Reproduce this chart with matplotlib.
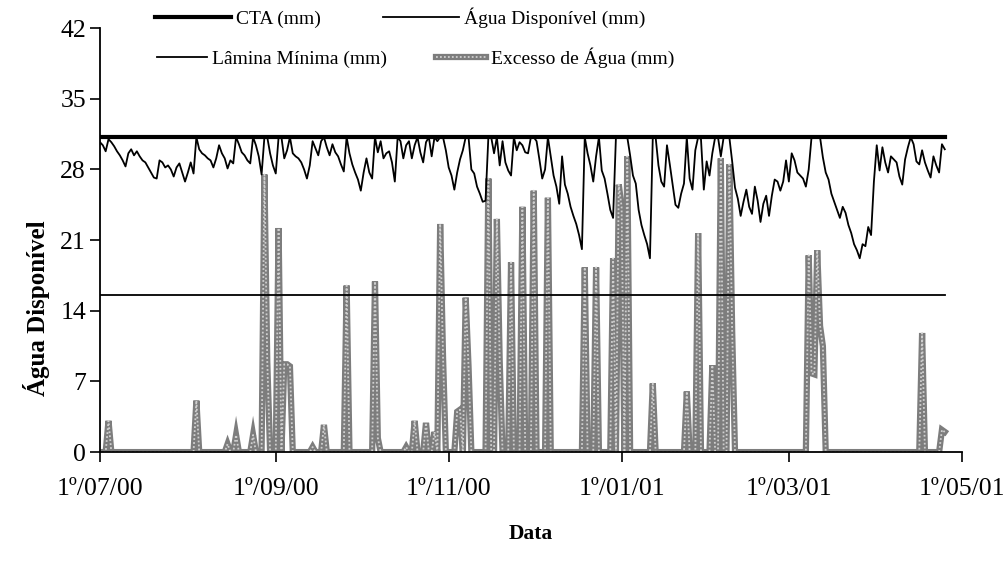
import numpy as np
import pandas as pd
import matplotlib
matplotlib.use("Agg")
import matplotlib.pyplot as plt

plt.rcParams['font.family'] = ['Liberation Serif', 'DejaVu Serif']

# dados diários a partir de 1º/07/2000
start = "2000-07-01"
cta = 31.2
lamina_minima = 15.6

agua_disponivel = [
    30.7, 30.4, 29.8, 31.0, 30.7, 30.3, 29.8, 29.4, 28.9, 28.3,
    29.6, 30.0, 29.4, 29.8, 29.3, 28.9, 28.7, 28.2, 27.7, 27.2,
    27.1, 28.9, 28.7, 28.2, 28.4, 28.0, 27.3, 28.2, 28.6, 27.7,
    26.8, 27.7, 28.7, 27.6, 31.2, 30.0, 29.6, 29.4, 29.1, 28.9,
    28.2, 29.1, 30.4, 29.6, 29.1, 28.1, 28.9, 28.6, 31.2, 30.5,
    29.7, 29.4, 28.9, 28.6, 31.2, 30.4, 29.3, 27.5, 31.2, 31.2,
    29.6, 28.4, 27.6, 31.2, 31.2, 29.1, 29.9, 31.2, 29.6, 29.3,
    29.1, 28.7, 28.0, 27.1, 28.4, 30.8, 30.1, 29.4, 30.8, 31.2,
    30.2, 29.4, 30.5, 29.7, 29.3, 28.5, 27.8, 31.2, 29.6, 28.5,
    27.7, 27.0, 25.9, 27.7, 29.1, 27.7, 27.1, 31.2, 29.7, 30.8,
    29.1, 29.6, 29.8, 28.7, 26.8, 31.2, 30.8, 29.1, 30.4, 30.8,
    29.1, 30.4, 31.2, 29.7, 28.7, 30.7, 31.2, 29.3, 31.2, 30.8,
    31.2, 31.2, 29.9, 28.2, 27.4, 26.0, 27.7, 29.0, 29.9, 31.2,
    31.2, 28.0, 27.6, 26.3, 25.6, 24.8, 24.9, 31.2, 31.2, 29.6,
    31.2, 28.4, 30.8, 28.7, 27.9, 27.4, 31.2, 29.9, 30.7, 30.4,
    29.7, 29.6, 31.2, 31.2, 30.8, 29.0, 27.1, 28.0, 31.2, 29.3,
    27.4, 26.3, 24.6, 29.3, 26.5, 25.6, 24.3, 23.4, 22.6, 21.5,
    20.1, 31.2, 29.6, 28.4, 26.8, 29.3, 31.2, 27.9, 27.1, 25.6,
    24.0, 23.2, 31.2, 31.2, 31.2, 31.2, 31.2, 29.4, 27.4, 26.6,
    24.0, 22.5, 21.5, 20.6, 19.2, 31.2, 31.2, 28.4, 26.8, 26.3,
    30.4, 28.5, 26.5, 24.5, 24.2, 25.6, 26.6, 31.2, 27.1, 26.0,
    29.9, 31.2, 31.0, 26.0, 28.8, 27.4, 29.6, 31.2, 31.2, 29.3,
    31.2, 31.2, 31.2, 28.8, 26.2, 25.1, 23.4, 24.8, 26.0, 24.3,
    23.6, 26.3, 24.9, 22.8, 24.6, 25.4, 23.4, 25.4, 27.0, 26.8,
    25.9, 26.8, 28.9, 26.8, 29.6, 28.9, 27.7, 27.4, 27.1, 26.3,
    28.0, 31.2, 31.2, 31.2, 31.2, 29.2, 27.7, 27.0, 25.6, 24.8,
    24.0, 23.2, 24.3, 23.7, 22.5, 21.7, 20.6, 20.0, 19.2, 20.6,
    20.4, 22.3, 21.5, 26.8, 30.4, 27.9, 30.2, 28.7, 27.7, 29.3,
    29.0, 28.7, 27.3, 26.5, 29.0, 30.2, 31.2, 30.5, 28.8, 28.5,
    29.9, 28.7, 27.9, 27.2, 29.3, 28.4, 27.7, 30.5, 30.0,
]

# excesso de água: dias (a partir de 1º/07/00) com valor diferente de zero
excesso_dias = [3, 34, 45, 48, 54, 58, 59, 63, 65, 66, 67, 75, 79, 87, 97, 98,
                108, 111, 115, 118, 120, 121, 126, 127, 129, 130, 137, 140, 141,
                145, 149, 153, 158, 171, 175, 181, 183, 184, 186, 195, 207, 211,
                216, 219, 222, 223, 250, 251, 252, 253, 254, 255, 290, 297, 298]
excesso_vals = [3.1, 5.1, 0.8, 1.7, 1.7, 27.5, 9.0, 22.2, 8.7, 8.7, 8.5, 0.5, 2.7,
                16.5, 16.9, 1.4, 0.5, 3.1, 2.9, 2.0, 22.6, 9.5, 4.0, 4.2, 15.3,
                8.5, 27.1, 23.1, 9.0, 18.8, 24.3, 25.9, 25.2, 18.3, 18.3, 19.2,
                26.5, 24.3, 29.3, 6.8, 6.0, 21.7, 8.6, 29.1, 28.5, 12.0, 19.5,
                7.8, 7.7, 20.0, 12.5, 10.5, 11.8, 2.2, 2.0]

xticks = ["2000-07-01", "2000-09-01", "2000-11-01", "2001-01-01", "2001-03-01", "2001-05-01"]
xtick_labels = ["1º/07/00", "1º/09/00", "1º/11/00", "1º/01/01", "1º/03/01", "1º/05/01"]

n = len(agua_disponivel)
dates = pd.date_range(start, periods=n, freq="D")
excesso = np.zeros(n)
excesso[excesso_dias] = excesso_vals

fig = plt.figure(figsize=(10.05, 5.63), dpi=100)
ax = fig.add_axes([0.0995, 0.197, 0.8575, 0.753])

exc_base, = ax.plot(dates, excesso, color="#7d7d7d", lw=4.5, solid_joinstyle="miter")
exc_dot, = ax.plot(dates, excesso, color="#cfcfcf", lw=1.3, ls=(0, (1, 1.2)))
lin_cta, = ax.plot(dates, [cta] * n, color="black", lw=3)
lin_ad, = ax.plot(dates, agua_disponivel, color="black", lw=1.3)
lin_lam, = ax.plot(dates, [lamina_minima] * n, color="black", lw=1.3)

ax.set_xlim(pd.Timestamp(xticks[0]), pd.Timestamp(xticks[-1]))
ax.set_ylim(0, 42)
ax.set_yticks(range(0, 43, 7))
ax.set_xticks([pd.Timestamp(t) for t in xticks])
ax.set_xticklabels(xtick_labels)
ax.tick_params(direction="out", length=7, width=1.2, labelsize=18.5)
ax.tick_params(axis="x", pad=12)
ax.tick_params(axis="y", pad=3)
for s in ["top", "right"]:
    ax.spines[s].set_visible(False)
for s in ["left", "bottom"]:
    ax.spines[s].set_linewidth(1.3)

ax.set_xlabel("Data", fontsize=15.5, fontweight="bold", labelpad=17)
ax.set_ylabel("Água Disponível", fontsize=18, fontweight="bold")
ax.yaxis.set_label_coords(-0.058, 0.34)

# legenda em duas linhas, como no original
leg1 = ax.legend([lin_cta, lin_ad], ["CTA (mm)", "Água Disponível (mm)"],
                 ncol=2, loc="center left", bbox_to_anchor=(0.064, 1.024), frameon=False,
                 fontsize=14, handlelength=3.9, handletextpad=0.25, columnspacing=3.2,
                 borderaxespad=0, borderpad=0)
ax.add_artist(leg1)
ax.legend([lin_lam, (exc_base, exc_dot)], ["Lâmina Mínima (mm)", "Excesso de Água (mm)"],
          ncol=2, loc="center left", bbox_to_anchor=(0.066, 0.93), frameon=False,
          fontsize=14, handlelength=2.6, handletextpad=0.25, columnspacing=2.5,
          borderaxespad=0, borderpad=0)

fig.savefig("out.png", dpi=100)
